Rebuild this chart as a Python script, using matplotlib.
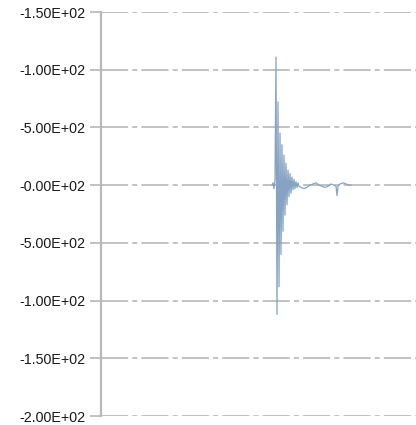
import matplotlib
matplotlib.use("Agg")
import matplotlib.pyplot as plt
import numpy as np

plt.rcParams['font.family'] = ['Liberation Sans', 'DejaVu Sans']
plt.rcParams['lines.scale_dashes'] = False

# y ticks and their (odd) labels as shown in the chart
ytick_values = [150, 100, 50, 0, -50, -100, -150, -200]
ytick_labels = ["-1.50E+02", "-1.00E+02", "-5.00E+02", "-0.00E+02",
                "-5.00E+02", "-1.00E+02", "-1.50E+02", "-2.00E+02"]

# signal samples (index, value)
sample_idx = [171, 172, 173, 174, 175, 176, 177, 178, 179, 180,
              181, 182, 183, 184, 185, 186, 187, 188, 189, 190,
              191, 192, 193, 194, 195, 196, 197, 198, 200, 203,
              206, 209, 212, 215, 218, 221, 224, 227, 230, 233,
              235, 236, 237, 239, 242, 245, 248, 250]
sample_val = [0, 2, -3, 5, 111, -112, 72, -88, 45, -60,
              35, -40, 26, -26, 19, -17, 13, -10, 10, -7,
              7, -4, 5, -3, 3, -2, 2, -1, -2, -3,
              -2, 0, 1, 2, 0, -1, -2, -1, 1, 0,
              -1, -9, -1, 1, 2, 1, 0, 0]

fig = plt.figure(figsize=(4.16, 4.25), dpi=100)
ax = fig.add_axes([101/416, 1 - 416/425, 1 - 101/416, 404/425])

ax.plot(sample_idx, sample_val, color='#86a3c3', linewidth=0.9)

ax.set_xlim(0, 315)
ax.set_ylim(-200, 150)
ax.set_yticks(ytick_values)
ax.set_yticklabels(ytick_labels, fontsize=10.3, color='#1a1a1a')
ax.set_xticks([])

ax.grid(axis='y', color='#b0b0b0', linewidth=1.1,
        linestyle=(0, (19.5, 3.0, 3.6, 3.0)))
ax.set_axisbelow(True)

for side in ['top', 'right', 'bottom']:
    ax.spines[side].set_visible(False)
ax.spines['left'].set_color('#b8b8b8')
ax.spines['left'].set_linewidth(1.6)
ax.tick_params(axis='y', length=8, width=1.1, color='#b0b0b0', pad=3)

fig.savefig("out.png", dpi=100)
